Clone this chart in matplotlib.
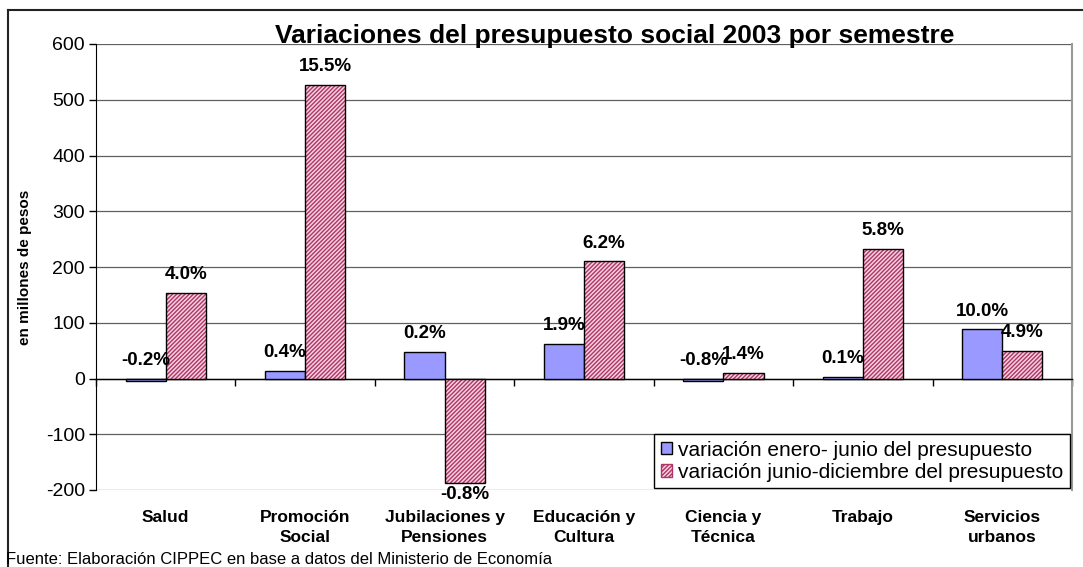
import numpy as np
import matplotlib
matplotlib.use("Agg")
import matplotlib.pyplot as plt
from matplotlib.lines import Line2D

plt.rcParams['font.family'] = ['Liberation Sans', 'DejaVu Sans']
plt.rcParams['axes.unicode_minus'] = False

categorias = ["Salud", "Promoción\nSocial", "Jubilaciones y\nPensiones", "Educación y\nCultura",
              "Ciencia y\nTécnica", "Trabajo", "Servicios\nurbanos"]
ene_jun = [-5, 14, 48, 62, -5, 3, 88]
jun_dic = [154, 527, -188, 210, 10, 232, 50]
etiq_ene = ["-0.2%", "0.4%", "0.2%", "1.9%", "-0.8%", "0.1%", "10.0%"]
etiq_dic = ["4.0%", "15.5%", "-0.8%", "6.2%", "1.4%", "5.8%", "4.9%"]
yticks = [-200, -100, 0, 100, 200, 300, 400, 500, 600]

fig = plt.figure(figsize=(10.83, 5.67), dpi=100)
ax = fig.add_axes([96/1083, 1 - 490/567, (1072 - 96)/1083, (490 - 44)/567])

x = np.arange(len(categorias))
w = 0.288

ax.bar(x - w/2, ene_jun, w, color='#9999FF', edgecolor='black', linewidth=1, zorder=3,
       label='variación enero- junio del presupuesto')
ax.bar(x + w/2, jun_dic, w, color='#F4D2DE', edgecolor='#B03468', hatch='////////',
       linewidth=0, zorder=3)
ax.bar(x + w/2, jun_dic, w, fill=False, edgecolor='black', linewidth=1, zorder=4)
# proxy para la leyenda
ax.bar([0], [0], 0, color='#F4D2DE', edgecolor='#B03468', hatch='////////',
       label='variación junio-diciembre del presupuesto')

for i in range(len(categorias)):
    for xv, v, t in [(x[i] - w/2, ene_jun[i], etiq_ene[i]), (x[i] + w/2, jun_dic[i], etiq_dic[i])]:
        if v < -50:
            ax.annotate(t, (xv, v), xytext=(0, -2), textcoords='offset points',
                        ha='center', va='top', fontsize=13.5, fontweight='bold', zorder=5)
        else:
            ax.annotate(t, (xv, max(v, 0)), xytext=(0, 7), textcoords='offset points',
                        ha='center', va='bottom', fontsize=13.5, fontweight='bold', zorder=5)

ax.set_xlim(-0.5, len(categorias) - 0.5)
ax.set_ylim(-200, 600)
ax.set_yticks(yticks)
ax.tick_params(axis='y', labelsize=14, direction='out', length=5, width=1, pad=3)
ax.yaxis.grid(True, color='#606060', linewidth=0.9, zorder=0)
ax.set_axisbelow(True)

ax.spines['top'].set_visible(False)
ax.spines['right'].set_color('#999999')
ax.spines['right'].set_linewidth(1.5)
ax.spines['bottom'].set_position(('data', 0))
ax.spines['bottom'].set_linewidth(1)
ax.set_xticks(np.arange(len(categorias) + 1) - 0.5)
ax.set_xticklabels([])
ax.tick_params(axis='x', direction='out', length=5, width=1)

for i, c in enumerate(categorias):
    ax.text(x[i], -0.045, c, transform=ax.get_xaxis_transform(), ha='center', va='top',
            fontsize=12.5, fontweight='bold', linespacing=1.45)

ax.set_ylabel('en millones de pesos', fontsize=11, fontweight='bold', labelpad=10)

fig.text(0.568, 0.936, 'Variaciones del presupuesto social 2003 por semestre',
         ha='center', va='center', fontsize=19, fontweight='bold')

fig.text(0.006, 0.0, 'Fuente: Elaboración CIPPEC en base a datos del Ministerio de Economía',
         ha='left', va='bottom', fontsize=12)

leg = ax.legend(loc='lower right', bbox_to_anchor=(1.0, 0.0), fontsize=15, frameon=True,
                fancybox=False, edgecolor='black', framealpha=1, handlelength=0.55,
                handleheight=0.55, handletextpad=0.3, borderpad=0.3, labelspacing=0.15,
                borderaxespad=0.1)
leg.get_frame().set_linewidth(1)

# borde superior e izquierdo del gráfico
fig.add_artist(Line2D([8/1083, 1], [1 - 10/567, 1 - 10/567], transform=fig.transFigure,
                      color='#222222', linewidth=1.5))
fig.add_artist(Line2D([8/1083, 8/1083], [0, 1 - 10/567], transform=fig.transFigure,
                      color='#222222', linewidth=1.5))

fig.savefig('out.png', dpi=100)
